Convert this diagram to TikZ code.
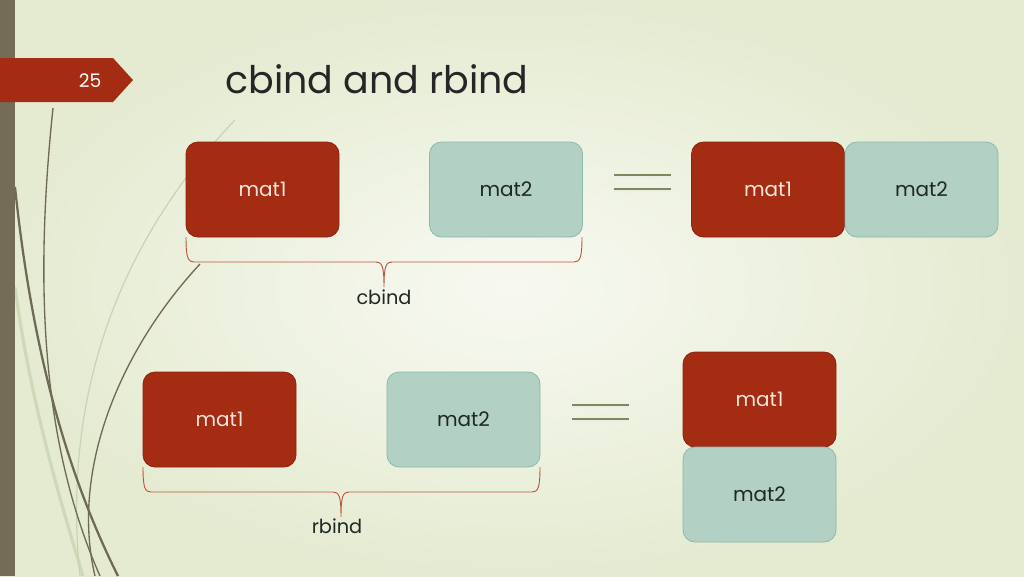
\documentclass[tikz,border=0pt]{standalone}
\usepackage{fontspec}
\setmainfont{Poppins}
\definecolor{bgin}{HTML}{F7F9F1}
\definecolor{bgout}{HTML}{E5EBD1}
\definecolor{barc}{HTML}{756C57}
\definecolor{redf}{HTML}{A42C12}
\definecolor{redd}{HTML}{8A2410}
\definecolor{tealf}{HTML}{B3D0C5}
\definecolor{teald}{HTML}{8DB9A9}
\definecolor{redtxt}{HTML}{F7E4DA}
\definecolor{tealtxt}{HTML}{1E2824}
\definecolor{eqc}{HTML}{7C8A5B}
\definecolor{bracec}{HTML}{C0553F}
\definecolor{darkline}{HTML}{6F6A52}
\definecolor{lightline}{HTML}{C9D3B2}
\definecolor{titlec}{HTML}{262626}
\tikzset{
  matbox/.style={rounded corners=9pt, minimum width=114.75pt, minimum height=71.25pt, inner sep=0pt, line width=0.6pt, font=\fontsize{15}{17}\selectfont},
  redbox/.style={matbox, fill=redf, draw=redd, text=redtxt},
  tealbox/.style={matbox, fill=tealf, draw=teald, text=tealtxt},
  bracepath/.style={draw=bracec, line width=0.7pt},
  eqline/.style={draw=eqc, line width=1.6pt},
  eqshadow/.style={draw=white!85!eqc, line width=1.2pt},
  lbl/.style={font=\fontsize{14.5}{16}\selectfont, text=tealtxt, inner sep=0pt}
}
\begin{document}
\begin{tikzpicture}[x=0.75pt,y=-0.75pt]
\useasboundingbox (0,0) rectangle (1024,576);
% background
\shade[inner color=bgin, outer color=bgout] (0,0) rectangle (1024,576);
% decorative curves
\draw[lightline!80!bgout, line width=2.4pt] (15,287) .. controls (30,400) and (60,500) .. (83,576);
\draw[lightline, line width=0.9pt] (235,120) .. controls (130,230) and (60,380) .. (80,576);
\draw[darkline, line width=1.0pt] (53,108) .. controls (35,280) and (40,440) .. (100,576);
\draw[darkline, line width=1.7pt] (15,187) .. controls (30,330) and (60,460) .. (118,576);
\draw[darkline, line width=1.0pt] (200,264) .. controls (120,350) and (70,470) .. (95,576);
% left bar
\fill[barc] (0,0) rectangle (15,576);
% number tag
\fill[redf] (0,58) -- (113,58) -- (133,80) -- (113,102) -- (0,102) -- cycle;
\node[text=white, font=\fontsize{14}{16}\selectfont, inner sep=0pt] (num) at (90,81) {25};
% title
\node[anchor=west, text=titlec, font=\fontsize{28.5}{32}\selectfont, inner sep=0pt] (title) at (225,79) {cbind and rbind};
% top row
\node[redbox] (a1) at (262.5,189.5) {mat1};
\node[tealbox] (a2) at (506,189.5) {mat2};
\draw[eqshadow] (614,177) -- (671,177);
\draw[eqshadow] (614,191) -- (671,191);
\draw[eqline] (614,175) -- (671,175);
\draw[eqline] (614,189) -- (671,189);
\node[redbox] (r1) at (768,189.5) {mat1};
\node[tealbox] (r2) at (921.5,189.5) {mat2};
% cbind brace
\draw[bracepath]
  (186,237) .. controls (186,258) and (188,262) .. (194,262) -- (376,262)
  .. controls (382,262) and (384,266) .. (384,287)
  .. controls (384,266) and (386,262) .. (392,262) -- (574,262)
  .. controls (580,262) and (582,258) .. (582,237);
\node[lbl] (cb) at (384,297) {cbind};
% bottom row
\node[redbox] (b1) at (219.5,419.5) {mat1};
\node[tealbox] (b2) at (463.5,419.5) {mat2};
\draw[eqshadow] (572,407) -- (629,407);
\draw[eqshadow] (572,421) -- (629,421);
\draw[eqline] (572,405) -- (629,405);
\draw[eqline] (572,419) -- (629,419);
\node[redbox] (s1) at (759.5,399.5) {mat1};
\node[tealbox] (s2) at (759.5,494.5) {mat2};
% rbind brace
\draw[bracepath]
  (143,467) .. controls (143,488) and (145,492) .. (151,492) -- (333,492)
  .. controls (339,492) and (341,496) .. (341,517)
  .. controls (341,496) and (343,492) .. (349,492) -- (532,492)
  .. controls (538,492) and (540,488) .. (540,467);
\node[lbl] (rb) at (337,526) {rbind};
\end{tikzpicture}
\end{document}
